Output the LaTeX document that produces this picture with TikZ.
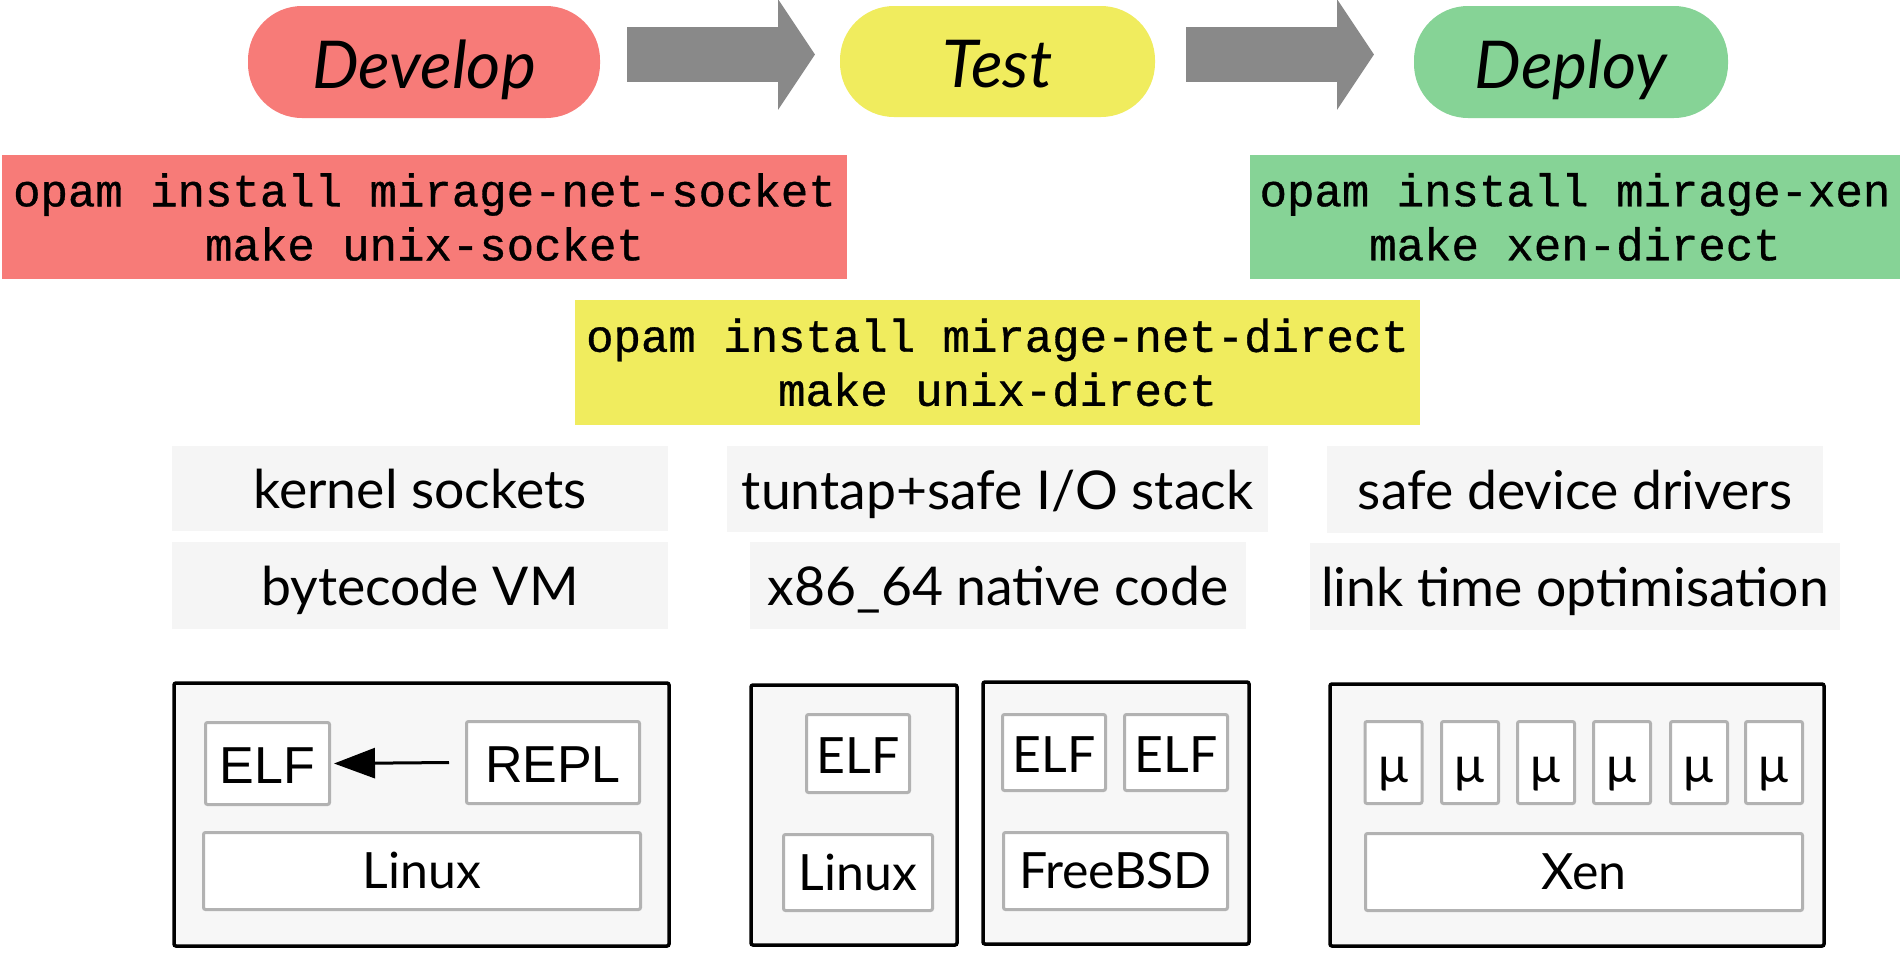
\documentclass[tikz,border=0pt]{standalone}
\usepackage{fontspec}
\setmainfont{Lato}
\newfontfamily\codefont[FakeBold=0.8]{Liberation Mono}
\newfontfamily\hvfont{Liberation Sans}
\usetikzlibrary{arrows.meta}
\definecolor{devred}{RGB}{247,123,120}
\definecolor{testyel}{RGB}{240,236,94}
\definecolor{depgreen}{RGB}{134,211,150}
\definecolor{arrowgray}{RGB}{137,137,137}
\definecolor{labelgray}{RGB}{245,245,245}
\definecolor{boxgray}{RGB}{247,247,247}
\definecolor{edgegray}{RGB}{178,178,178}
\begin{document}
\begin{tikzpicture}[x=1pt,y=-1pt,
  pill/.style={rounded corners=54pt, inner sep=0pt, text depth=0pt, text height=52pt,
    font=\fontsize{66}{70}\selectfont\itshape},
  codebox/.style={inner sep=0pt, align=center, font=\fontsize{45.7}{54}\selectfont\codefont},
  fatarrow/.style={draw=arrowgray, line width=55pt, -{Triangle[length=37pt,width=109pt]}},
  feature/.style={fill=labelgray, inner sep=0pt, text depth=0pt, text height=40pt,
    font=\fontsize{53.5}{58}\selectfont},
  outerbox/.style={draw=black, fill=boxgray, line width=3.5pt, rounded corners=2pt, inner sep=0pt},
  innerbox/.style={draw=edgegray, fill=white, line width=3pt, rounded corners=2pt, inner sep=0pt,
    text depth=0pt, text height=39pt, font=\fontsize{50}{55}\selectfont},
  basebox/.style={innerbox, text height=35pt},
  hvbox/.style={innerbox, font=\fontsize{52}{56}\selectfont\hvfont},
  smallarrow/.style={draw=black, line width=3pt, -{Triangle[length=41pt,width=30pt]}}
]
\useasboundingbox[fill=white] (0,0) rectangle (1904,954);

% stage pills
\node[pill, fill=devred, minimum width=352pt, minimum height=112pt] (dev) at (424,62) {Develop};
\node[pill, fill=testyel, minimum width=315pt, minimum height=111pt] (test) at (997.5,61.5) {Test};
\node[pill, fill=depgreen, minimum width=314pt, minimum height=112pt] (dep) at (1571,62) {Deploy};

% fat arrows
\coordinate (a1s) at (627,54.5);
\coordinate (a1e) at (815,54.5);
\coordinate (a2s) at (1186,54.5);
\coordinate (a2e) at (1374,54.5);
\draw[fatarrow] (a1s) -- (a1e);
\draw[fatarrow] (a2s) -- (a2e);

% code boxes
\node[codebox, fill=devred, minimum width=845pt, minimum height=124pt] (devcode) at (424.5,217)
  {opam install mirage-net-socket\\make unix-socket};
\node[codebox, fill=depgreen, minimum width=650pt, minimum height=124pt] (depcode) at (1575,217)
  {opam install mirage-xen\\make xen-direct};
\node[codebox, fill=testyel, minimum width=845pt, minimum height=125pt] (testcode) at (997.5,362.5)
  {opam install mirage-net-direct\\make unix-direct};

% feature labels
\node[feature, minimum width=496pt, minimum height=85pt] (ks) at (420,488.5) {kernel sockets};
\node[feature, minimum width=496pt, minimum height=87pt] (bvm) at (420,585.5) {bytecode VM};
\node[feature, minimum width=541pt, minimum height=86pt] (tun) at (997.5,489) {tuntap+safe I/O stack};
\node[feature, minimum width=496pt, minimum height=87pt] (x86) at (998,585.5) {x86\_64 native code};
\node[feature, minimum width=496pt, minimum height=87pt] (sdd) at (1575,489.5) {safe device drivers};
\node[feature, minimum width=530pt, minimum height=87pt] (lto) at (1575,586.5) {link time optimisation};

% outer boxes
\node[outerbox, minimum width=495pt, minimum height=263pt] (devbox) at (421.5,814.5) {};
\node[outerbox, minimum width=206pt, minimum height=260pt] (tbox1) at (854,815) {};
\node[outerbox, minimum width=266pt, minimum height=262pt] (tbox2) at (1116,813) {};
\node[outerbox, minimum width=494pt, minimum height=262pt] (xbox) at (1577,815) {};

% develop box contents
\node[hvbox, minimum width=124pt, minimum height=82pt] (delf) at (267.5,763.5) {ELF};
\node[hvbox, minimum width=173pt, minimum height=82pt] (repl) at (553,762.5) {REPL};
\node[basebox, minimum width=437pt, minimum height=77pt] (dlinux) at (422,871) {Linux};
\draw[smallarrow] ([xshift=-16pt]repl.west) -- ([xshift=3pt]delf.east);

% test box 1 contents
\node[innerbox, minimum width=103pt, minimum height=78pt] (telf) at (858,753.5) {ELF};
\node[basebox, minimum width=149pt, minimum height=76pt] (tlinux) at (858,872.5) {Linux};

% test box 2 contents
\node[innerbox, minimum width=103pt, minimum height=76pt] (felf1) at (1054,752.5) {ELF};
\node[innerbox, minimum width=103pt, minimum height=76pt] (felf2) at (1176,752.5) {ELF};
\node[basebox, minimum width=224pt, minimum height=77pt] (fbsd) at (1115.5,871) {FreeBSD};

% deploy box contents
\node[innerbox, minimum width=57pt, minimum height=82pt] (mu1) at (1393.5,762.5) {µ};
\node[innerbox, minimum width=57pt, minimum height=82pt] (mu2) at (1470,762.5) {µ};
\node[innerbox, minimum width=57pt, minimum height=82pt] (mu3) at (1546,762.5) {µ};
\node[innerbox, minimum width=57pt, minimum height=82pt] (mu4) at (1622,762.5) {µ};
\node[innerbox, minimum width=57pt, minimum height=82pt] (mu5) at (1699,762.5) {µ};
\node[innerbox, minimum width=57pt, minimum height=82pt] (mu6) at (1774,762.5) {µ};
\node[basebox, minimum width=437pt, minimum height=77pt] (xen) at (1584,872) {Xen};
\end{tikzpicture}
\end{document}
